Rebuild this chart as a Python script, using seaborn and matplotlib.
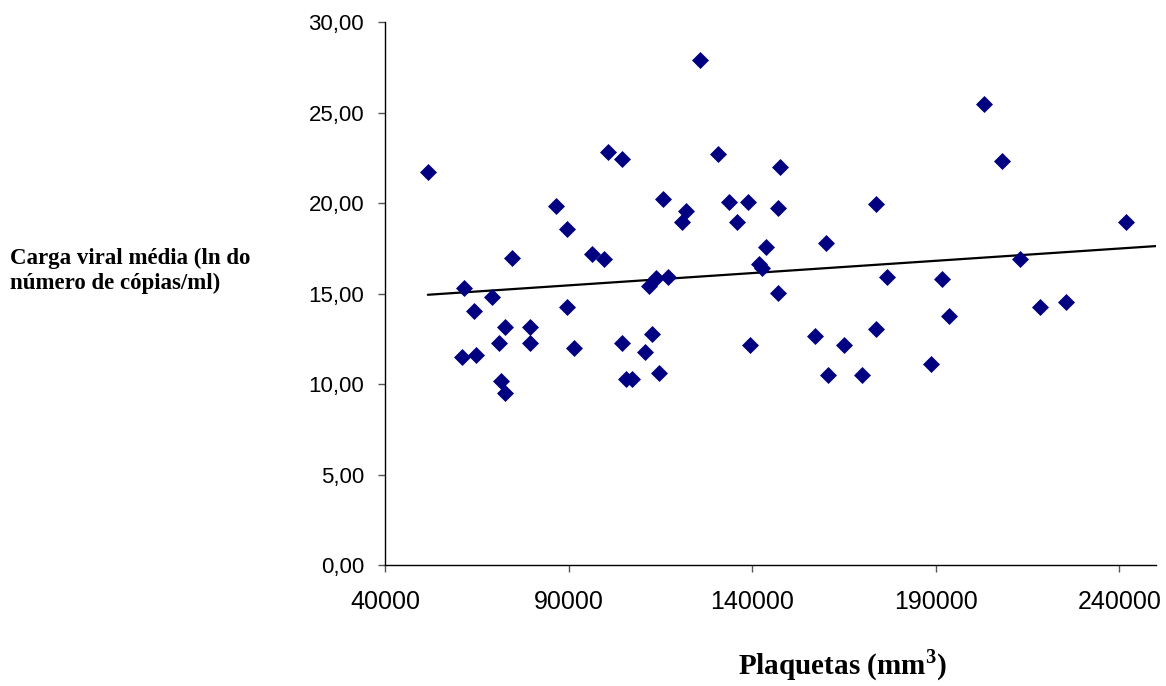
import numpy as np
import pandas as pd
import matplotlib
matplotlib.use("Agg")
import matplotlib.pyplot as plt
import seaborn as sns
from matplotlib.ticker import FuncFormatter

# ---- data ----
plaquetas = [51670, 100840, 104475, 130700, 86440, 89640, 115760, 121960, 120790, 133790,
             138820, 135810, 147500, 147010, 143820, 141900, 142720, 74610, 96280, 99640,
             61530, 69040, 111930, 113760, 116960, 147010, 64120, 89640, 72780, 79610,
             70950, 79610, 91440, 104670, 112590, 110760, 139530, 60950, 64780, 71610,
             72780, 105760, 107400, 114670, 125790, 203100, 208020, 241700, 213020, 218480,
             225500, 191630, 193730, 188700, 176790, 173680, 173680, 169960, 165040, 160670,
             160020, 157010]
carga = [21.71, 22.83, 22.45, 22.71, 19.82, 18.56, 20.20, 19.56, 18.93, 20.06,
         20.07, 18.93, 21.99, 19.71, 17.55, 16.63, 16.41, 16.94, 17.18, 16.91,
         15.28, 14.81, 15.43, 15.84, 15.93, 15.03, 14.03, 14.27, 13.13, 13.13,
         12.28, 12.28, 12.01, 12.28, 12.76, 11.77, 12.14, 11.51, 11.62, 10.18,
         9.49, 10.26, 10.26, 10.62, 27.90, 25.47, 22.32, 18.95, 16.91, 14.27,
         14.53, 15.80, 13.77, 11.12, 15.91, 19.94, 13.02, 10.50, 12.15, 10.50,
         17.81, 12.65]
# linear trend line as drawn in the reference (start / end values)
trend_x = [51670, 250000]
trend_y = [14.93, 17.62]
x_ticks = [40000, 90000, 140000, 190000, 240000]
y_ticks = [0, 5, 10, 15, 20, 25, 30]
x_label = "Plaquetas (mm$^\\mathregular{3}$)"
y_label = "Carga viral média (ln do\nnúmero de cópias/ml)"

df = pd.DataFrame({"plaquetas": plaquetas, "carga": carga})
trend = pd.DataFrame({"x": trend_x, "y": trend_y})

sns.set_style("white")
plt.rcParams["font.family"] = ["Liberation Sans", "DejaVu Sans"]
plt.rcParams["text.color"] = "black"
plt.rcParams["xtick.color"] = "black"
plt.rcParams["ytick.color"] = "black"
plt.rcParams["axes.labelcolor"] = "black"

fig = plt.figure(figsize=(11.66, 6.86), dpi=100)
ax = fig.add_axes([385 / 1166, 1 - 565 / 686, (1156 - 385) / 1166, (565 - 22) / 686])

sns.scatterplot(data=df, x="plaquetas", y="carga", marker="D", s=75,
                color="#000080", edgecolor="#000080", linewidth=0, ax=ax, zorder=3)
sns.lineplot(data=trend, x="x", y="y", color="black", lw=1.6, ax=ax, zorder=2)

ax.set_xlim(40000, 250000)
ax.set_ylim(0, 30)
ax.set_xticks(x_ticks)
ax.set_yticks(y_ticks)
ax.yaxis.set_major_formatter(FuncFormatter(lambda v, p: f"{v:.2f}".replace(".", ",")))
ax.xaxis.set_major_formatter(FuncFormatter(lambda v, p: f"{int(v)}"))

for s in ["top", "right"]:
    ax.spines[s].set_visible(False)
for s in ["left", "bottom"]:
    ax.spines[s].set_color("black")
    ax.spines[s].set_linewidth(1.0)

ax.tick_params(axis="y", direction="out", length=5, width=1, color="#555555",
               labelcolor="black", labelsize=16, pad=10, left=True)
ax.tick_params(axis="x", direction="out", length=5, width=1, color="#555555",
               labelcolor="black", labelsize=18, pad=13, bottom=True)
ax.set_xlabel("")
ax.set_ylabel("")

fig.text(842 / 1166, 1 - 665 / 686, x_label, ha="center", va="center", color="black",
         fontsize=21, fontweight="bold", family=["Liberation Serif", "DejaVu Serif"])
fig.text(10 / 1166, 1 - 271 / 686, y_label, ha="left", va="center", color="black",
         fontsize=16.5, fontweight="bold", family=["Liberation Serif", "DejaVu Serif"],
         linespacing=1.2)

fig.savefig("out.png", dpi=100)
